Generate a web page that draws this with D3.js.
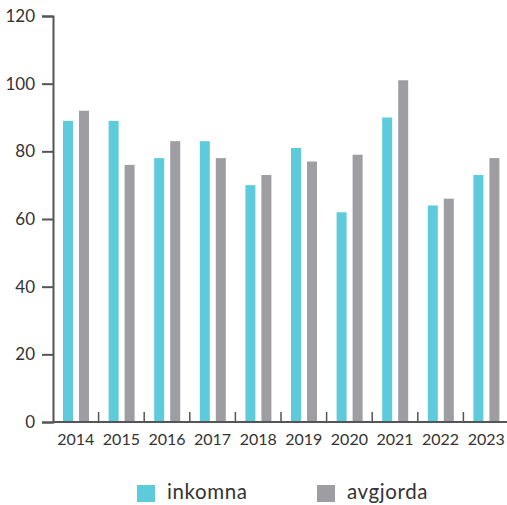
<!DOCTYPE html>
<html>
<head>
<meta charset="utf-8">
<script src="https://cdn.jsdelivr.net/npm/d3@7"></script>
<style>
  html, body { margin: 0; padding: 0; background: #fff; }
  svg text { font-family: Lato, "Open Sans", sans-serif; fill: #333; }
</style>
</head>
<body>
<svg id="chart" width="507" height="505"></svg>
<script>
// Ärenden per år
const years = ["2014","2015","2016","2017","2018","2019","2020","2021","2022","2023"];
const inkomna  = [89, 89, 78, 83, 70, 81, 62, 90, 64, 73];
const avgjorda = [92, 76, 83, 78, 73, 77, 79, 101, 66, 78];
const seriesNames = ["inkomna", "avgjorda"];
const yTicks = [0, 20, 40, 60, 80, 100, 120];

const colors = { inkomna: "#5ecbdd", avgjorda: "#9d9da2" };
const axisColor = "#555";

const svg = d3.select("#chart");
const margin = { left: 53, top: 16, right: 0, bottom: 83 };
const width = 507, height = 505;
const plotBottom = height - margin.bottom; // 422

const x = d3.scaleBand().domain(years).range([margin.left, 509]).paddingInner(0).paddingOuter(0);
const y = d3.scaleLinear().domain([0, 120]).range([plotBottom, margin.top]);

const data = years.map((yr, i) => ({ year: yr, inkomna: inkomna[i], avgjorda: avgjorda[i] }));

const inner = d3.scaleBand().domain(seriesNames).range([10, 36]).paddingInner(0.375);

// Bars
const groups = svg.append("g").selectAll("g").data(data).join("g")
  .attr("transform", d => `translate(${x(d.year)},0)`);
groups.selectAll("rect").data(d => seriesNames.map(k => ({ key: k, value: d[k] }))).join("rect")
  .attr("x", d => inner(d.key))
  .attr("width", inner.bandwidth())
  .attr("y", d => y(d.value))
  .attr("height", d => y(0) - y(d.value))
  .attr("fill", d => colors[d.key]);

// Y axis
const yAxis = svg.append("g").attr("transform", `translate(${margin.left},0)`)
  .call(d3.axisLeft(y).tickValues(yTicks).tickSize(11).tickPadding(7));
yAxis.select(".domain").attr("stroke", axisColor).attr("stroke-width", 2);
yAxis.selectAll(".tick line").attr("stroke", axisColor).attr("stroke-width", 2);
yAxis.selectAll(".tick text").style("font-size", "17px").attr("fill", "#333");

// X axis: baseline with separators between categories
const xAxis = svg.append("g").attr("transform", `translate(0,${plotBottom})`);
xAxis.append("line")
  .attr("x1", margin.left).attr("x2", width)
  .attr("stroke", axisColor).attr("stroke-width", 2);
xAxis.selectAll("line.sep").data(years.slice(1)).join("line")
  .attr("class", "sep")
  .attr("x1", d => x(d)).attr("x2", d => x(d))
  .attr("y1", 0).attr("y2", -10)
  .attr("stroke", axisColor).attr("stroke-width", 1.5);
xAxis.selectAll("text").data(years).join("text")
  .attr("x", d => x(d) + x.bandwidth() / 2)
  .attr("y", 23)
  .attr("text-anchor", "middle")
  .style("font-size", "16px")
  .text(d => d);

// Legend
const legend = svg.append("g");
const legendItems = [
  { key: "inkomna", x: 137 },
  { key: "avgjorda", x: 317 }
];
legendItems.forEach(it => {
  legend.append("rect").attr("x", it.x).attr("y", 485).attr("width", 18).attr("height", 17)
    .attr("fill", colors[it.key]);
  legend.append("text").attr("x", it.x + 30).attr("y", 499)
    .style("font-size", "20.5px").style("letter-spacing", "0.6px").text(it.key);
});
</script>
</body>
</html>
